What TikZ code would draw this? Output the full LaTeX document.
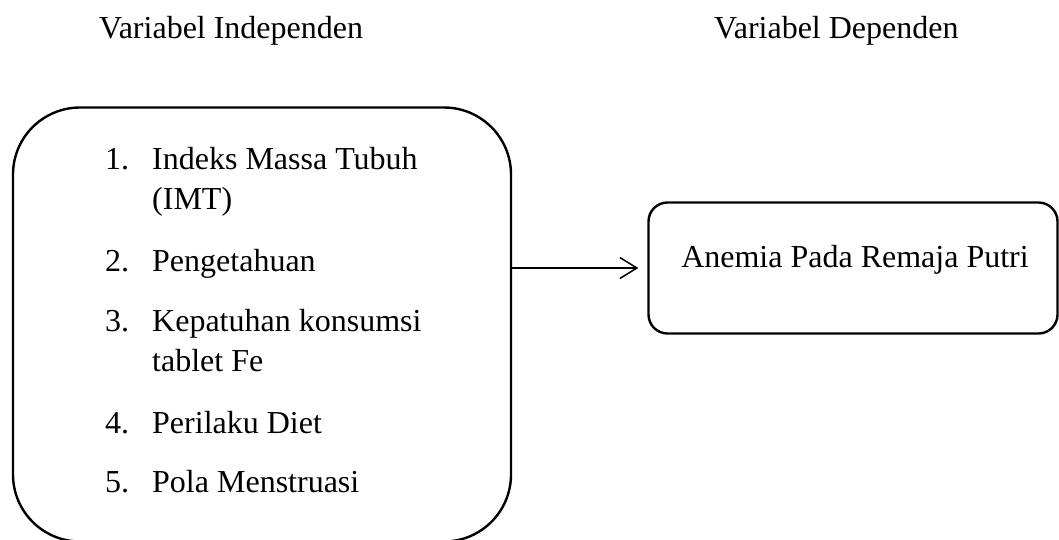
\documentclass[tikz,border=0pt]{standalone}
\usepackage{fontspec}
\setmainfont{Liberation Serif}
\usetikzlibrary{arrows.meta}
\begin{document}
\begin{tikzpicture}[x=1pt,y=-1pt,
  txt/.style={font=\fontsize{32}{38}\selectfont, inner sep=0pt, anchor=base west},
  bigbox/.style={draw, line width=2.4pt, rounded corners=67pt, inner sep=0pt},
  smallbox/.style={draw, line width=2.4pt, rounded corners=19pt, inner sep=0pt},
  arr/.style={line width=1.5pt, -{Straight Barb[length=17pt,width=21pt,line width=1.5pt]}}]
\useasboundingbox (0,0) rectangle (1059,539);
% headings
\node[txt] (hI) at (99,38) {Variabel Independen};
\node[txt] (hD) at (714,38) {Variabel Dependen};
% left box
\node[bigbox, minimum width=498pt, minimum height=434pt] (lbox) at (262,324.5) {};
\node[txt] (n1) at (105,169) {1.};
\node[txt] (t1) at (152,169) {Indeks Massa Tubuh};
\node[txt] (t1b) at (152,209) {(IMT)};
\node[txt] (n2) at (105,271) {2.};
\node[txt] (t2) at (152,271) {Pengetahuan};
\node[txt] (n3) at (105,331) {3.};
\node[txt] (t3) at (152,331) {Kepatuhan konsumsi};
\node[txt] (t3b) at (152,371) {tablet Fe};
\node[txt] (n4) at (105,433) {4.};
\node[txt] (t4) at (152,433) {Perilaku Diet};
\node[txt] (n5) at (105,492) {5.};
\node[txt] (t5) at (152,492) {Pola Menstruasi};
% right box
\node[smallbox, minimum width=409pt, minimum height=131pt] (rbox) at (853,268) {};
\node[txt, anchor=base] (rt) at (855,267) {Anemia Pada Remaja Putri};
% arrow
\draw[arr] (lbox.east |- rbox.west) -- ([xshift=-9pt]rbox.west);
\end{tikzpicture}
\end{document}
